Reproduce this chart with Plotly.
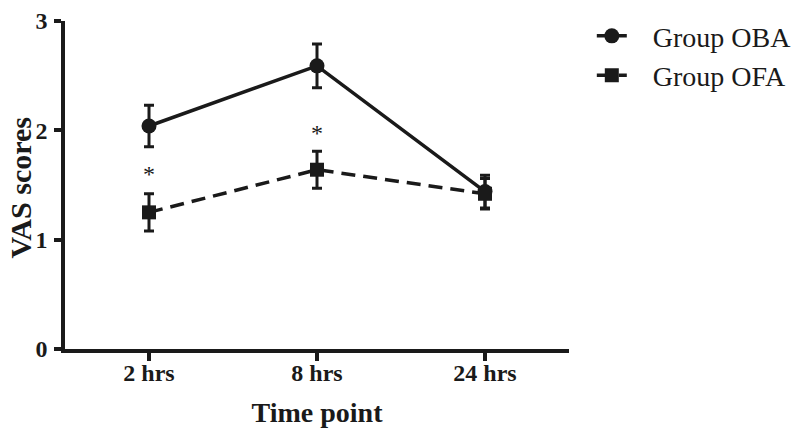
import plotly.graph_objects as go

time_points = ["2 hrs", "8 hrs", "24 hrs"]
oba_mean = [2.04, 2.59, 1.44]
oba_err = [0.19, 0.20, 0.15]
ofa_mean = [1.25, 1.64, 1.42]
ofa_err = [0.17, 0.17, 0.14]
star_x = ["2 hrs", "8 hrs"]
star_y = [1.59, 1.97]

FONT = "Liberation Serif"
INK = "#1a1a1a"

fig = go.Figure()
fig.add_trace(go.Scatter(
    x=time_points, y=oba_mean, name="\u00a0\u00a0\u00a0Group OBA", mode="lines+markers",
    line=dict(color=INK, width=3.5),
    marker=dict(symbol="circle", size=15, color=INK),
    error_y=dict(type="data", array=oba_err, color=INK, thickness=3, width=5),
))
fig.add_trace(go.Scatter(
    x=time_points, y=ofa_mean, name="\u00a0\u00a0\u00a0Group OFA", mode="lines+markers",
    line=dict(color=INK, width=3.5, dash="14px,8px"),
    marker=dict(symbol="square", size=14, color=INK),
    error_y=dict(type="data", array=ofa_err, color=INK, thickness=3, width=5),
))

for sx, sy in zip(star_x, star_y):
    fig.add_annotation(x=sx, y=sy, text="*", showarrow=False,
                       font=dict(family=FONT, size=24, color=INK),
                       yanchor="middle", yshift=1)

# y-axis title as a rotated annotation so it can sit left of the tick labels
fig.add_annotation(xref="paper", yref="paper", x=-0.089, y=0.49,
                   text="<b>VAS scores</b>", textangle=-90, showarrow=False,
                   xanchor="center", yanchor="middle",
                   font=dict(family=FONT, size=30, color=INK))

# page body has an 8px margin; figure offset compensated in the margins
fig.update_layout(
    width=792, height=423,
    margin=dict(l=57, r=230, t=3, b=82),
    paper_bgcolor="white", plot_bgcolor="white",
    font=dict(family=FONT, color=INK),
    showlegend=True,
    legend=dict(x=1.452, y=1.03, xanchor="right", yanchor="top",
                font=dict(family=FONT, size=28, color=INK),
                bgcolor="rgba(0,0,0,0)", tracegroupgap=0),
    xaxis=dict(
        type="category", range=[-0.5, 2.5], automargin=False,
        showline=True, linecolor=INK, linewidth=3.5,
        ticks="outside", ticklen=8, tickwidth=3.5, tickcolor=INK,
        showgrid=False, zeroline=False, ticklabelstandoff=-9,
        tickfont=dict(family=FONT, size=24, color=INK, weight="bold"),
        title=dict(text="<b>Time point</b>", font=dict(family=FONT, size=28, color=INK), standoff=19),
    ),
    yaxis=dict(
        range=[0, 3.0005], tickvals=[0, 1, 2, 3], automargin=False,
        showline=True, linecolor=INK, linewidth=3.5,
        ticks="outside", ticklen=7, tickwidth=3.5, tickcolor=INK,
        showgrid=False, zeroline=False, ticklabelstandoff=2,
        ticklabeloverflow="allow",
        tickfont=dict(family=FONT, size=24, color=INK, weight="bold"),
    ),
)

fig.write_html("out.html")
